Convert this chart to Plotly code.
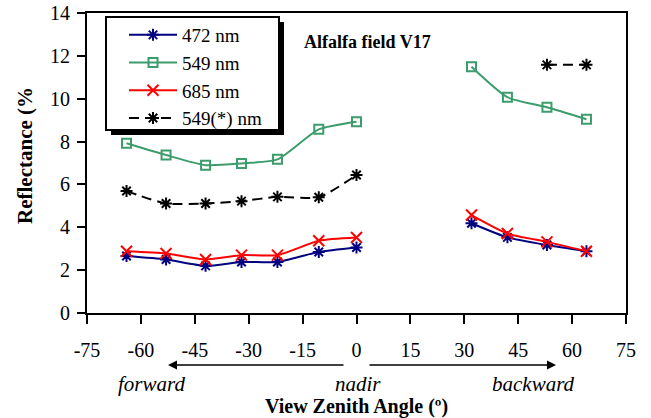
import plotly.graph_objects as go

# ---- data ----
fwd_angle = [-64, -53, -42, -32, -22, -10.5, 0]
bwd_angle = [32, 42, 53, 64]
star_bwd_angle = [53, 64]

r472_fwd = [2.66, 2.50, 2.20, 2.38, 2.38, 2.85, 3.06]
r472_bwd = [4.19, 3.53, 3.17, 2.88]
r549_fwd = [7.92, 7.37, 6.90, 6.98, 7.17, 8.57, 8.93]
r549_bwd = [11.49, 10.07, 9.60, 9.04]
r685_fwd = [2.88, 2.78, 2.50, 2.70, 2.70, 3.37, 3.52]
r685_bwd = [4.57, 3.71, 3.32, 2.88]
r549s_fwd = [5.69, 5.11, 5.11, 5.22, 5.42, 5.40, 6.44]
r549s_bwd = [11.58, 11.58]

x_ticks = [-75, -60, -45, -30, -15, 0, 15, 30, 45, 60, 75]
y_ticks = [0, 2, 4, 6, 8, 10, 12, 14]

FONT = "Liberation Serif"

series = [
    ("472 nm", r472_fwd, r472_bwd, bwd_angle, "#000080", "asterisk-open", 10, "solid"),
    ("549 nm", r549_fwd, r549_bwd, bwd_angle, "#3C9C6C", "square-open", 9, "solid"),
    ("685 nm", r685_fwd, r685_bwd, bwd_angle, "#FF0000", "x-thin-open", 11, "solid"),
    ("549(*) nm", r549s_fwd, r549s_bwd, star_bwd_angle, "#000000", "asterisk-open", 10, "10px,6px"),
]

fig = go.Figure()
for name, yf, yb, xb, color, sym, size, dash in series:
    xs = fwd_angle + [None] + xb
    ys = yf + [None] + yb
    fig.add_trace(go.Scatter(
        x=xs, y=ys, name=name, mode="lines+markers",
        line=dict(color=color, width=2, shape="spline", smoothing=0.6, dash=dash),
        marker=dict(symbol=sym, size=size, color=color, line=dict(color=color, width=2)),
        connectgaps=False,
    ))

L, T, PW, PH = 87, 13, 539, 300

def pxx(px):
    return (px - L) / PW

def py(px):
    return (T + PH - px) / PH

fig.update_layout(
    width=651, height=418,
    margin=dict(l=L, r=651 - L - PW, t=T, b=418 - T - PH, autoexpand=False),
    paper_bgcolor="white", plot_bgcolor="white",
    font=dict(family=FONT, size=20, color="black"),
    showlegend=True,
    legend=dict(
        x=pxx(124), y=py(16), xanchor="left", yanchor="top",
        bgcolor="rgba(0,0,0,0)", borderwidth=0,
        font=dict(family=FONT, size=19), tracegroupgap=0,
        itemwidth=48,
    ),
)

fig.update_xaxes(
    range=[-75, 75], tickvals=x_ticks, ticktext=[str(v) for v in x_ticks],
    ticks="outside", ticklen=9, tickwidth=2, tickcolor="black",
    showline=True, linecolor="black", linewidth=2, mirror=True,
    showgrid=False, zeroline=False, ticklabelstandoff=9, automargin=False,
    tickfont=dict(family=FONT, size=20),
)
fig.update_yaxes(
    range=[0, 14], tickvals=y_ticks, ticktext=[str(v) for v in y_ticks],
    ticks="outside", ticklen=8, tickwidth=2, tickcolor="black",
    showline=True, linecolor="black", linewidth=2, mirror=True,
    showgrid=False, zeroline=False, ticklabelstandoff=3, automargin=False,
    tickfont=dict(family=FONT, size=20),
)

# legend shadow and box
fig.add_shape(type="rect", xref="paper", yref="paper",
              x0=pxx(111), x1=pxx(284), y0=py(135), y1=py(22),
              fillcolor="black", line=dict(width=0), layer="above")
fig.add_shape(type="rect", xref="paper", yref="paper",
              x0=pxx(106), x1=pxx(279), y0=py(130), y1=py(17),
              fillcolor="white", line=dict(color="black", width=2), layer="above")

def label(text, x, y, size, angle=0):
    return dict(text=text, x=pxx(x), y=py(y), xref="paper", yref="paper",
                xanchor="center", yanchor="middle", showarrow=False,
                textangle=angle, font=dict(family=FONT, size=size))

annotations = [
    label("<b>Alfalfa field V17</b>", 367, 42, 18),
    label("<b>Reflectance (%</b>", 25, 156, 21, -90),
    label("<i>forward</i>", 151, 384, 21),
    label("<i>nadir</i>", 358, 384, 21),
    label("<i>backward</i>", 533, 384, 21),
    label("<b>View Zenith Angle (º)</b>", 356, 406, 20),
    dict(text="", x=pxx(168), y=py(365), ax=177, ay=0,
         xref="paper", yref="paper", axref="pixel", ayref="pixel",
         showarrow=True, arrowhead=2, arrowsize=1.2, arrowwidth=1.5, arrowcolor="black"),
    dict(text="", x=pxx(556), y=py(365), ax=-188, ay=0,
         xref="paper", yref="paper", axref="pixel", ayref="pixel",
         showarrow=True, arrowhead=2, arrowsize=1.2, arrowwidth=1.5, arrowcolor="black"),
]
fig.update_layout(annotations=annotations)

fig.write_html("out.html", config={"displayModeBar": False},
               post_script="document.body.style.margin='0';")
